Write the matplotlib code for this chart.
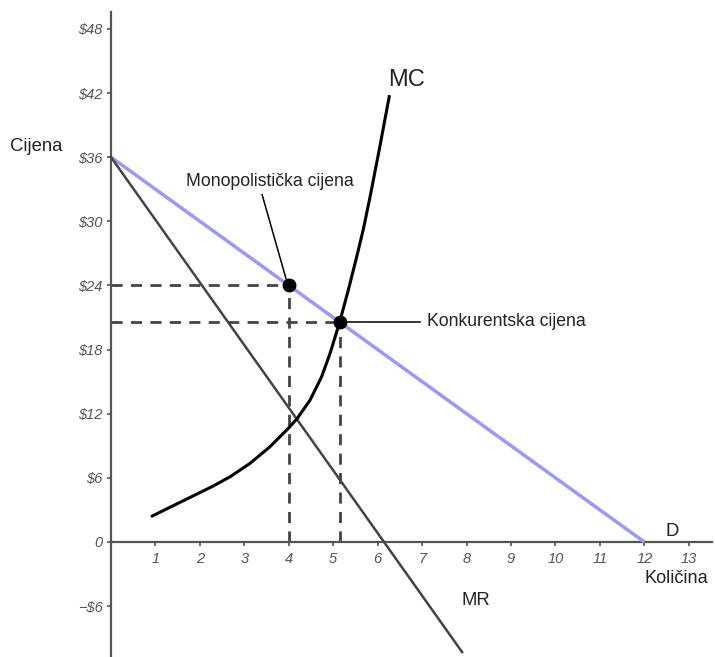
import matplotlib
matplotlib.use("Agg")
import matplotlib.pyplot as plt
from matplotlib.ticker import FixedLocator, FixedFormatter

plt.rcParams['font.family'] = ['Liberation Sans', 'DejaVu Sans']

# Data
demand_q = [0, 12]
demand_p = [36, 0]
mr_q = [0, 7.9]
mr_p = [36, -10.3]
mc_q = [0.93, 1.51, 2.27, 2.68, 3.13, 3.58, 3.99, 4.18, 4.48, 4.74, 4.93, 5.14, 5.34, 5.53, 5.68, 5.83, 6.05, 6.26]
mc_p = [2.43, 3.62, 5.17, 6.1, 7.36, 8.92, 10.63, 11.5, 13.28, 15.46, 17.65, 20.5, 23.57, 26.7, 29.3, 32.3, 37.0, 41.66]
mono_q, mono_p = 4, 24
comp_q, comp_p = 5.15, 20.55
x_ticks = [1, 2, 3, 4, 5, 6, 7, 8, 9, 10, 11, 12, 13]
y_ticks = [-6, 0, 6, 12, 18, 24, 30, 36, 42, 48]
y_tick_labels = ["\u2212\\$6", "0", "\\$6", "\\$12", "\\$18", "\\$24", "\\$30", "\\$36", "\\$42", "\\$48"]

fig = plt.figure(figsize=(7.15, 6.57), dpi=100)
ax = fig.add_axes([0, 0, 1, 1])
ax.set_xlim(-2.497, 13.59)
ax.set_ylim(-10.76, 50.70)

# Axes as spines through origin
for s in ['top', 'right']:
    ax.spines[s].set_visible(False)
ax.spines['left'].set_position(('data', 0))
ax.spines['bottom'].set_position(('data', 0))
ax.spines['left'].set_bounds(-10.76, 49.6)
ax.spines['bottom'].set_bounds(0, 13.52)
for s in ['left', 'bottom']:
    ax.spines[s].set_color('#555555')
    ax.spines[s].set_linewidth(1.6)

ax.xaxis.set_major_locator(FixedLocator(x_ticks))
ax.xaxis.set_major_formatter(FixedFormatter([str(v) for v in x_ticks]))
ax.yaxis.set_major_locator(FixedLocator(y_ticks))
ax.yaxis.set_major_formatter(FixedFormatter(y_tick_labels))
ax.tick_params(axis='both', direction='out', length=3, width=1.2, color='#555555',
               labelcolor='#555555', labelsize=10.5)
ax.tick_params(axis='x', pad=4)
ax.tick_params(axis='y', pad=3)
for lab in ax.get_xticklabels() + ax.get_yticklabels():
    lab.set_fontstyle('italic')

# Dashed guide lines
dash = dict(color='#444444', lw=2, ls=(0, (4, 3)), zorder=2)
ax.plot([0, mono_q], [mono_p, mono_p], **dash)
ax.plot([mono_q, mono_q], [0, mono_p], **dash)
ax.plot([0, comp_q], [comp_p, comp_p], **dash)
ax.plot([comp_q, comp_q], [0, comp_p], **dash)

# Curves
ax.plot(demand_q, demand_p, color='#9999ff', lw=2.5, zorder=3, solid_capstyle='butt')
ax.plot(mr_q, mr_p, color='#444444', lw=1.8, zorder=3)
ax.plot(mc_q, mc_p, color='black', lw=2.2, zorder=4, solid_joinstyle='round')

# Points
ax.plot([mono_q, comp_q], [mono_p, comp_p], 'o', color='black', markersize=9, zorder=5)

# Leader lines
ax.plot([3.40, 3.94], [32.5, 24.6], color='black', lw=1.1, zorder=4)
ax.plot([comp_q, 6.95], [comp_p, comp_p], color='black', lw=1.1, zorder=4)

# Labels
txt = dict(color='#222222')
ax.text(3.58, 33.7, "Monopolistička cijena", ha='center', va='center', fontsize=12.7, **txt)
ax.text(7.1, 20.6, "Konkurentska cijena", ha='left', va='center', fontsize=12.7, **txt)
ax.text(6.65, 43.2, "MC", ha='center', va='center', fontsize=17, **txt)
ax.text(8.21, -5.43, "MR", ha='center', va='center', fontsize=13.3, **txt)
ax.text(12.62, 0.97, "D", ha='center', va='center', fontsize=13.3, **txt)
ax.text(12.71, -3.37, "Količina", ha='center', va='center', fontsize=13.1, **txt)
ax.text(-1.69, 37.04, "Cijena", ha='center', va='center', fontsize=13.3, **txt)

fig.savefig("out.png", dpi=100)
